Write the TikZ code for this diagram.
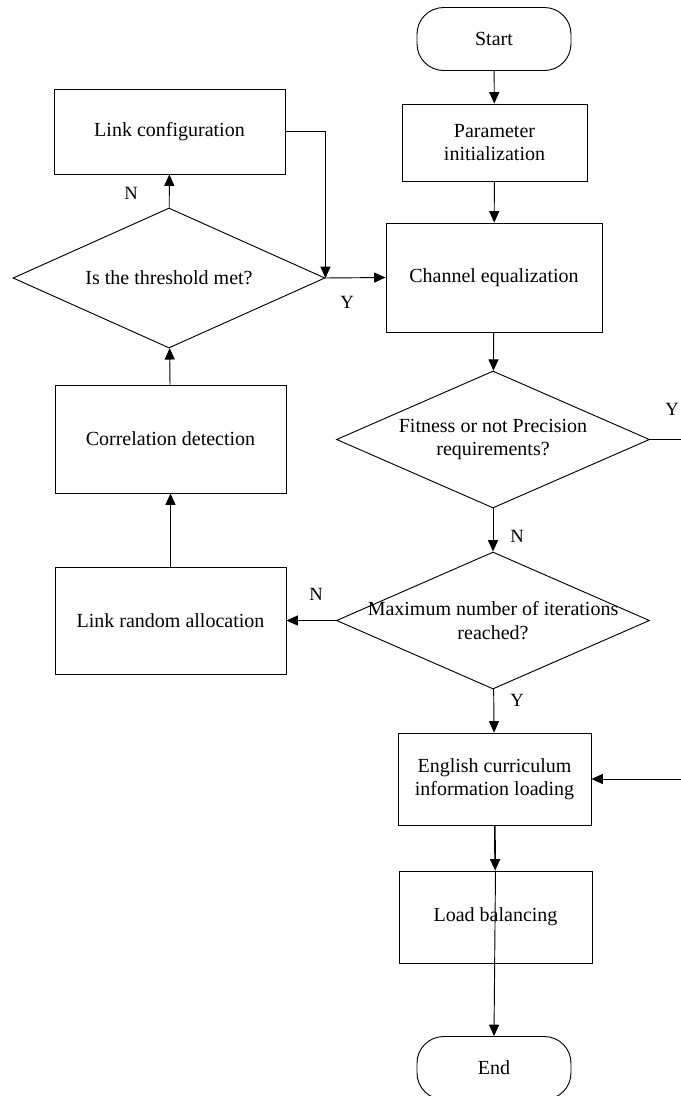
\documentclass[tikz,border=0pt]{standalone}
\usepackage{fontspec}
\setmainfont{Liberation Serif}
\usetikzlibrary{positioning,shapes.geometric,arrows.meta}

\begin{document}
\begin{tikzpicture}[%
	x=0.75pt, y=-0.75pt,
	every node/.style = {font=\fontsize{15}{17.5}\selectfont, align=center},
	processBox/.style = {shape=rectangle, draw, line width=0.7pt, inner sep=0pt},
	termBox/.style = {shape=rectangle, rounded corners=20pt, draw, line width=0.7pt,
		minimum width=115.5pt, minimum height=47.25pt},
	decisionBox/.style = {shape=diamond, draw, line width=0.7pt, inner sep=0pt,
		minimum width=234.75pt, minimum height=102.75pt},
	yesno/.style = {font=\fontsize{14}{16}\selectfont, inner sep=0pt},
	flow/.style = {draw, line width=0.7pt, -{Triangle[length=8.5pt,width=7.5pt]}},
	]
  \clip (0,0) rectangle (681,1096);
  \node [termBox] (start) at (494,39) {Start};
  \node [processBox, minimum width=138.75pt, minimum height=57.75pt] (param) at (494.5,142.5) {Parameter\\initialization};
  \node [processBox, minimum width=162pt, minimum height=81.75pt] (chan) at (494,277.5) {Channel equalization};
  \node [decisionBox] (fit) at (493,439.5) {};
  \node (fitTxt) at (fit) {Fitness or not Precision\\requirements?};
  \node [decisionBox] (maxit) at (493,620.5) {};
  \node (maxitTxt) at (maxit) {Maximum number of iterations\\reached?};
  \node [processBox, minimum width=144.75pt, minimum height=69pt] (eng) at (494.5,779) {English curriculum\\information loading};
  \node [processBox, minimum width=144.75pt, minimum height=69pt] (load) at (495.5,917) {Load balancing};
  \node [termBox] (end) at (494,1068) {End};

  \node [processBox, minimum width=173.25pt, minimum height=63.75pt] (linkc) at (169.5,131.5) {Link configuration};
  \node [decisionBox, minimum width=234pt, minimum height=105pt] (thr) at (169,278) {};
  \node (thrTxt) at (thr) {Is the threshold met?};
  \node [processBox, minimum width=173.25pt, minimum height=81pt] (corr) at (170.5,439) {Correlation detection};
  \node [processBox, minimum width=173.25pt, minimum height=80.25pt] (rand) at (170.5,620.5) {Link random allocation};
  \coordinate (rbend) at (700,0);

  \draw [flow] (start) -- (param);
  \draw [flow] (param) -- (chan);
  \draw [flow] (chan) -- (fit);
  \draw [flow] (fit) -- (maxit);
  \draw [flow] (maxit) -- (eng);
  \draw [flow, line width=1.2pt] (eng) -- (load);
  \draw [flow] (load.north) -- (end.north);
  \draw [flow] (fit.east) -| (rbend |- eng.east) -- (eng.east);
  \draw [flow] (maxit.west) -- (rand.east);
  \draw [flow] (rand) -- (corr);
  \draw [flow] (corr) -- (thr);
  \draw [flow] (thr) -- (linkc);
  \draw [flow] (linkc.east) -| (thr.east);
  \draw [flow] (thr.east) -- (chan.west);

  \node [yesno] (yThr) at (347,302) {Y};
  \node [yesno] (nThr) at (131,193) {N};
  \node [yesno] (yFit) at (672,409) {Y};
  \node [yesno] (nFit) at (517,536) {N};
  \node [yesno] (nMax) at (316,594) {N};
  \node [yesno] (yMax) at (517,700) {Y};
		\end{tikzpicture}
\end{document}
